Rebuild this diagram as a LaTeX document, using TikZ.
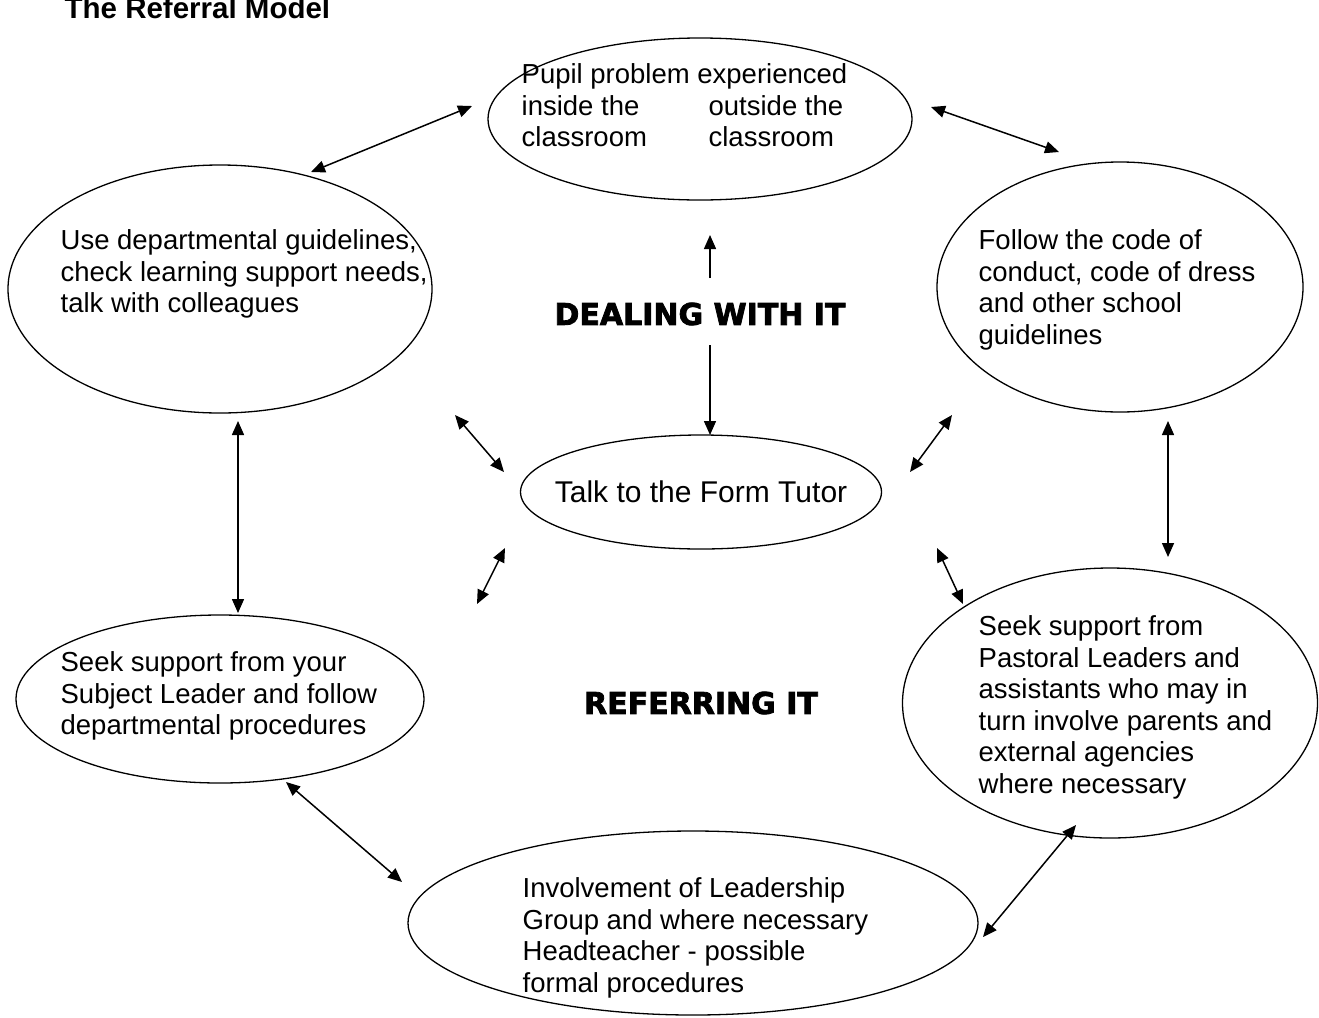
\documentclass[tikz,border=0pt]{standalone}
\usepackage{fontspec}
\setmainfont{Liberation Sans}
\newfontfamily\headfont[BoldFeatures={FakeBold=2.6}]{DejaVu Sans}
\usepackage{tikz}
\usetikzlibrary{arrows.meta,shapes.geometric}

\begin{document}
\begin{tikzpicture}[x=1bp,y=-1bp,>={Triangle[length=14bp,width=12bp]},line width=1.3bp]
\tikzstyle{bubble}=[draw,ellipse,inner sep=0pt]
\tikzstyle{bodytext}=[inner sep=0pt,anchor=north west,align=left,font=\fontsize{27.5bp}{31.5bp}\selectfont]
\tikzstyle{heading}=[inner sep=0pt,font=\headfont\bfseries\fontsize{30bp}{36bp}\selectfont]
\tikzstyle{link}=[<->,line width=1.5bp]
\useasboundingbox (0,0) rectangle (1319,1017);
\node[inner sep=0pt,anchor=base west,font=\bfseries\fontsize{29.5bp}{34bp}\selectfont] (title) at (64,18) {The Referral Model};
% bubbles
\node[bubble,minimum width=424bp,minimum height=162bp] (pupil) at (700,119) {};
\node[bubble,minimum width=424bp,minimum height=248bp] (dept) at (220,289) {};
\node[bubble,minimum width=366bp,minimum height=250bp] (conduct) at (1120,287) {};
\node[bubble,minimum width=408bp,minimum height=168bp] (subject) at (220,699) {};
\node[bubble,minimum width=415bp,minimum height=270bp] (pastoral) at (1110,703) {};
\node[bubble,minimum width=570bp,minimum height=184bp] (leader) at (693,923) {};
\node[bubble,minimum width=361bp,minimum height=114bp] (tutor) at (701,492) {};
% texts
\node[inner sep=0pt,font=\fontsize{30bp}{34bp}\selectfont] (tutortxt) at (tutor) {Talk to the Form Tutor};
\node[bodytext] (pupiltxt) at (521,63) {Pupil problem experienced\\\makebox[187bp][l]{inside the}outside the\\\makebox[187bp][l]{classroom}classroom};
\node[bodytext] (depttxt) at (60,229) {Use departmental guidelines,\\check learning support needs,\\talk with colleagues};
\node[bodytext] (conducttxt) at (978,229) {Follow the code of\\conduct, code of dress\\and other school\\guidelines};
\node[bodytext] (subjecttxt) at (60,651) {Seek support from your\\Subject Leader and follow\\departmental procedures};
\node[bodytext] (pastoraltxt) at (978,615) {Seek support from\\Pastoral Leaders and\\assistants who may in\\turn involve parents and\\external agencies\\where necessary};
\node[bodytext] (leadertxt) at (522,877) {Involvement of Leadership\\Group and where necessary\\Headteacher - possible\\formal procedures};
\node[heading] (dealing) at (700,314) {DEALING WITH IT};
\node[heading] (referring) at (701,703) {REFERRING IT};
% arrow ends
\coordinate (pd1) at (472,106); \coordinate (pd2) at (311,172);
\coordinate (pc1) at (931,107); \coordinate (pc2) at (1059,152);
\coordinate (ds1) at (238,421); \coordinate (ds2) at (238,613);
\coordinate (cp1) at (1168,421); \coordinate (cp2) at (1168,557);
\coordinate (sl1) at (286,782); \coordinate (sl2) at (402,882);
\coordinate (lp1) at (983,937); \coordinate (lp2) at (1076,825);
\coordinate (td1) at (504,472); \coordinate (td2) at (455,415);
\coordinate (tc1) at (910,472); \coordinate (tc2) at (952,415);
\coordinate (ts1) at (505,548); \coordinate (ts2) at (477,604);
\coordinate (tp1) at (937,548); \coordinate (tp2) at (963,604);
\coordinate (up1) at (710,278); \coordinate (up2) at (710,235);
\coordinate (dn1) at (710,345); \coordinate (dn2) at (710,435);
\draw[link] (pd1) -- (pd2);
\draw[link] (pc1) -- (pc2);
\draw[link] (ds1) -- (ds2);
\draw[link] (cp1) -- (cp2);
\draw[link] (sl1) -- (sl2);
\draw[link] (lp1) -- (lp2);
\draw[link] (td1) -- (td2);
\draw[link] (tc1) -- (tc2);
\draw[link] (ts1) -- (ts2);
\draw[link] (tp1) -- (tp2);
\draw[->,line width=1.5bp] (up1) -- (up2);
\draw[->,line width=1.5bp] (dn1) -- (dn2);
\end{tikzpicture}
\end{document}
